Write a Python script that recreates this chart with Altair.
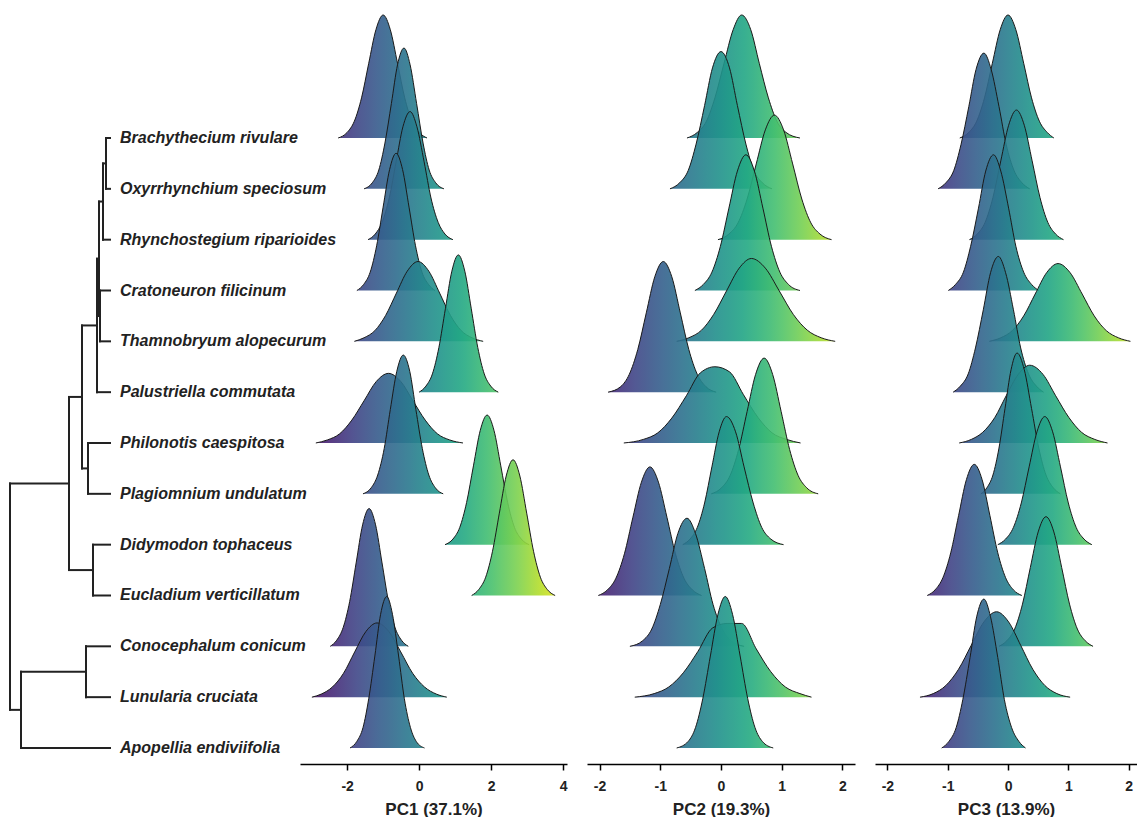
import altair as alt
import pandas as pd

SPECIES = ["Brachythecium rivulare", "Oxyrrhynchium speciosum", "Rhynchostegium riparioides",
           "Cratoneuron filicinum", "Thamnobryum alopecurum", "Palustriella commutata",
           "Philonotis caespitosa", "Plagiomnium undulatum", "Didymodon tophaceus",
           "Eucladium verticillatum", "Conocephalum conicum", "Lunularia cruciata",
           "Apopellia endiviifolia"]

PC_TITLES = ["PC1 (37.1%)", "PC2 (19.3%)", "PC3 (13.9%)"]
PC_TICKS = [[-2, 0, 2, 4], [-2, -1, 0, 1, 2], [-2, -1, 0, 1, 2]]
PC_DOMAINS = [[-3.31, 4.11], [-2.206, 2.206], [-2.206, 2.139]]
PC_FILL_RANGE = [[-3.3, 4.2], [-2.4, 2.3], [-1.8, 2.4]]
PANEL_W = [267, 268, 262]

# density curves: x positions and ridge heights (in row units) per species
PC1_X = [
    [-2.25, -2.0, -1.8, -1.6, -1.4, -1.2, -1.0, -0.8, -0.6, -0.4, -0.2, 0.0, 0.22],
    [-1.53, -1.30, -1.12, -0.95, -0.77, -0.60, -0.42, -0.25, -0.07, 0.11, 0.28, 0.46, 0.69],
    [-1.42, -1.22, -1.03, -0.83, -0.64, -0.45, -0.25, -0.06, 0.14, 0.33, 0.53, 0.72, 0.94],
    [-1.73, -1.54, -1.36, -1.18, -1.0, -0.82, -0.64, -0.46, -0.28, -0.10, 0.08, 0.26, 0.44],
    [-1.8, -1.53, -1.23, -0.93, -0.63, -0.33, -0.03, 0.27, 0.57, 0.87, 1.17, 1.47, 1.78],
    [0.0, 0.19, 0.37, 0.55, 0.73, 0.91, 1.09, 1.27, 1.45, 1.63, 1.81, 1.99, 2.2],
    [-2.87, -2.55, -2.21, -1.87, -1.53, -1.19, -0.85, -0.51, -0.17, 0.17, 0.51, 0.85, 1.22],
    [-1.56, -1.33, -1.15, -0.97, -0.80, -0.62, -0.44, -0.26, -0.09, 0.09, 0.27, 0.45, 0.67],
    [0.72, 0.94, 1.13, 1.32, 1.51, 1.70, 1.89, 2.08, 2.27, 2.46, 2.65, 2.84, 3.06],
    [1.46, 1.66, 1.85, 2.04, 2.23, 2.42, 2.61, 2.80, 2.99, 3.18, 3.37, 3.56, 3.78],
    [-2.47, -2.29, -2.11, -1.93, -1.75, -1.57, -1.39, -1.21, -1.03, -0.85, -0.67, -0.49, -0.30],
    [-2.98, -2.72, -2.41, -2.10, -1.79, -1.48, -1.17, -0.84, -0.51, -0.18, 0.15, 0.48, 0.77],
    [-1.92, -1.73, -1.56, -1.40, -1.23, -1.07, -0.90, -0.74, -0.57, -0.41, -0.24, -0.08, 0.15],
]
PC1_H = [
    [0, 0.11, 0.33, 0.79, 1.47, 2.13, 2.42, 2.13, 1.47, 0.79, 0.33, 0.11, 0],
    [0, 0.12, 0.37, 0.90, 1.68, 2.44, 2.77, 2.44, 1.68, 0.90, 0.37, 0.12, 0],
    [0, 0.11, 0.34, 0.82, 1.53, 2.22, 2.52, 2.22, 1.53, 0.82, 0.34, 0.11, 0],
    [0, 0.12, 0.36, 0.88, 1.64, 2.38, 2.70, 2.38, 1.64, 0.88, 0.36, 0.12, 0],
    [0, 0.07, 0.21, 0.51, 0.95, 1.38, 1.57, 1.38, 0.95, 0.51, 0.21, 0.07, 0],
    [0, 0.12, 0.36, 0.88, 1.64, 2.38, 2.70, 2.38, 1.64, 0.88, 0.36, 0.12, 0],
    [0, 0.06, 0.18, 0.45, 0.83, 1.21, 1.37, 1.21, 0.83, 0.45, 0.18, 0.06, 0],
    [0, 0.12, 0.37, 0.89, 1.66, 2.41, 2.73, 2.41, 1.66, 0.89, 0.37, 0.12, 0],
    [0, 0.11, 0.34, 0.83, 1.55, 2.25, 2.55, 2.25, 1.55, 0.83, 0.34, 0.11, 0],
    [0, 0.12, 0.36, 0.87, 1.62, 2.35, 2.67, 2.35, 1.62, 0.87, 0.36, 0.12, 0],
    [0, 0.12, 0.37, 0.88, 1.64, 2.39, 2.71, 2.39, 1.64, 0.88, 0.37, 0.12, 0],
    [0, 0.06, 0.20, 0.47, 0.89, 1.29, 1.46, 1.29, 0.89, 0.47, 0.20, 0.06, 0],
    [0, 0.13, 0.40, 0.97, 1.81, 2.63, 2.98, 2.63, 1.81, 0.97, 0.40, 0.13, 0],
]

PC2_X = [
    [-0.56, -0.39, -0.24, -0.10, 0.05, 0.20, 0.34, 0.49, 0.63, 0.78, 0.92, 1.07, 1.3],
    [-0.84, -0.68, -0.54, -0.41, -0.27, -0.14, 0.0, 0.14, 0.27, 0.41, 0.54, 0.68, 0.84],
    [-0.05, 0.13, 0.28, 0.43, 0.58, 0.73, 0.88, 1.03, 1.18, 1.33, 1.48, 1.63, 1.82],
    [-0.43, -0.29, -0.15, -0.01, 0.13, 0.27, 0.41, 0.55, 0.69, 0.83, 0.97, 1.11, 1.3],
    [-0.73, -0.53, -0.32, -0.12, 0.09, 0.30, 0.5, 0.73, 0.96, 1.19, 1.42, 1.65, 1.88],
    [-1.86, -1.65, -1.51, -1.37, -1.23, -1.09, -0.95, -0.81, -0.67, -0.53, -0.39, -0.25, -0.08],
    [-1.6, -1.28, -1.04, -0.81, -0.57, -0.34, -0.1, 0.14, 0.37, 0.61, 0.84, 1.08, 1.31],
    [-0.16, 0.01, 0.15, 0.29, 0.43, 0.57, 0.71, 0.85, 0.99, 1.13, 1.27, 1.41, 1.6],
    [-0.63, -0.51, -0.39, -0.27, -0.15, -0.03, 0.09, 0.24, 0.38, 0.53, 0.67, 0.82, 1.03],
    [-2.02, -1.87, -1.73, -1.59, -1.45, -1.31, -1.17, -1.03, -0.89, -0.75, -0.61, -0.47, -0.32],
    [-1.5, -1.29, -1.14, -1.0, -0.85, -0.71, -0.56, -0.42, -0.27, -0.13, 0.02, 0.16, 0.38],
    [-1.42, -1.1, -0.86, -0.62, -0.38, -0.14, 0.1, 0.34, 0.58, 0.82, 1.06, 1.30, 1.49],
    [-0.73, -0.54, -0.42, -0.30, -0.175, -0.05, 0.07, 0.19, 0.315, 0.44, 0.56, 0.68, 0.86],
]
PC2_H = [
    [0, 0.11, 0.33, 0.79, 1.47, 2.13, 2.42, 2.13, 1.47, 0.79, 0.33, 0.11, 0],
    [0, 0.12, 0.36, 0.88, 1.64, 2.38, 2.70, 2.38, 1.64, 0.88, 0.36, 0.12, 0],
    [0, 0.11, 0.33, 0.80, 1.49, 2.16, 2.45, 2.16, 1.49, 0.80, 0.33, 0.11, 0],
    [0, 0.12, 0.36, 0.87, 1.62, 2.35, 2.67, 2.35, 1.62, 0.87, 0.36, 0.12, 0],
    [0, 0.07, 0.22, 0.53, 0.99, 1.44, 1.63, 1.44, 0.99, 0.53, 0.22, 0.07, 0],
    [0, 0.11, 0.35, 0.84, 1.56, 2.27, 2.57, 2.27, 1.56, 0.84, 0.35, 0.11, 0],
    [0, 0.07, 0.20, 0.49, 0.93, 1.38, 1.50, 1.40, 0.95, 0.50, 0.20, 0.07, 0],
    [0, 0.12, 0.36, 0.87, 1.62, 2.35, 2.67, 2.35, 1.62, 0.87, 0.36, 0.12, 0],
    [0, 0.11, 0.34, 0.82, 1.53, 2.22, 2.52, 2.22, 1.53, 0.82, 0.34, 0.11, 0],
    [0, 0.11, 0.34, 0.82, 1.54, 2.23, 2.53, 2.23, 1.54, 0.82, 0.34, 0.11, 0],
    [0, 0.11, 0.34, 0.82, 1.53, 2.22, 2.52, 2.22, 1.53, 0.82, 0.34, 0.11, 0],
    [0, 0.07, 0.20, 0.48, 0.90, 1.36, 1.45, 1.45, 0.95, 0.50, 0.20, 0.07, 0],
    [0, 0.13, 0.40, 0.97, 1.81, 2.63, 2.98, 2.63, 1.81, 0.97, 0.40, 0.13, 0],
]

PC3_X = [
    [-0.8, -0.65, -0.52, -0.39, -0.26, -0.13, 0.0, 0.13, 0.26, 0.39, 0.52, 0.65, 0.76],
    [-1.16, -1.03, -0.9, -0.78, -0.65, -0.53, -0.4, -0.28, -0.15, -0.03, 0.1, 0.23, 0.36],
    [-0.64, -0.51, -0.38, -0.25, -0.12, 0.01, 0.14, 0.27, 0.4, 0.53, 0.66, 0.79, 0.92],
    [-0.99, -0.87, -0.74, -0.62, -0.49, -0.37, -0.24, -0.12, 0.01, 0.13, 0.26, 0.39, 0.51],
    [-0.31, -0.12, 0.07, 0.26, 0.45, 0.64, 0.83, 1.03, 1.23, 1.43, 1.63, 1.83, 2.03],
    [-0.91, -0.79, -0.66, -0.54, -0.41, -0.29, -0.16, -0.04, 0.09, 0.21, 0.34, 0.47, 0.59],
    [-0.81, -0.61, -0.42, -0.22, -0.03, 0.17, 0.36, 0.58, 0.79, 1.01, 1.22, 1.44, 1.65],
    [-0.45, -0.35, -0.25, -0.15, -0.05, 0.05, 0.15, 0.27, 0.39, 0.51, 0.63, 0.75, 0.87],
    [-0.17, -0.04, 0.09, 0.22, 0.35, 0.48, 0.61, 0.74, 0.87, 1.0, 1.13, 1.26, 1.39],
    [-1.34, -1.21, -1.08, -0.95, -0.82, -0.69, -0.56, -0.43, -0.30, -0.17, -0.04, 0.09, 0.23],
    [-0.15, -0.02, 0.11, 0.24, 0.37, 0.5, 0.63, 0.76, 0.89, 1.02, 1.15, 1.28, 1.41],
    [-1.46, -1.24, -1.03, -0.82, -0.61, -0.40, -0.19, 0.01, 0.21, 0.41, 0.61, 0.81, 1.03],
    [-1.1, -0.98, -0.86, -0.75, -0.63, -0.52, -0.4, -0.29, -0.17, -0.06, 0.06, 0.18, 0.29],
]
PC3_H = [
    [0, 0.11, 0.33, 0.79, 1.47, 2.13, 2.42, 2.13, 1.47, 0.79, 0.33, 0.11, 0],
    [0, 0.12, 0.36, 0.87, 1.62, 2.35, 2.67, 2.35, 1.62, 0.87, 0.36, 0.12, 0],
    [0, 0.11, 0.34, 0.83, 1.55, 2.25, 2.55, 2.25, 1.55, 0.83, 0.34, 0.11, 0],
    [0, 0.12, 0.36, 0.87, 1.62, 2.35, 2.67, 2.35, 1.62, 0.87, 0.36, 0.12, 0],
    [0, 0.07, 0.21, 0.50, 0.93, 1.35, 1.53, 1.35, 0.93, 0.50, 0.21, 0.07, 0],
    [0, 0.12, 0.36, 0.87, 1.62, 2.35, 2.67, 2.35, 1.62, 0.87, 0.36, 0.12, 0],
    [0, 0.07, 0.21, 0.50, 0.93, 1.35, 1.53, 1.35, 0.93, 0.50, 0.21, 0.07, 0],
    [0, 0.12, 0.37, 0.90, 1.68, 2.44, 2.77, 2.44, 1.68, 0.90, 0.37, 0.12, 0],
    [0, 0.11, 0.34, 0.82, 1.53, 2.22, 2.52, 2.22, 1.53, 0.82, 0.34, 0.11, 0],
    [0, 0.11, 0.35, 0.84, 1.57, 2.28, 2.58, 2.28, 1.57, 0.84, 0.35, 0.11, 0],
    [0, 0.11, 0.34, 0.83, 1.55, 2.25, 2.55, 2.25, 1.55, 0.83, 0.34, 0.11, 0],
    [0, 0.07, 0.23, 0.55, 1.02, 1.48, 1.68, 1.48, 1.02, 0.55, 0.23, 0.07, 0],
    [0, 0.13, 0.40, 0.95, 1.78, 2.58, 2.93, 2.58, 1.78, 0.95, 0.40, 0.13, 0],
]

PANEL_X = [PC1_X, PC2_X, PC3_X]
PANEL_H = [PC1_H, PC2_H, PC3_H]

# dendrogram: (node, depth position, children)
LEAF_X = 110
TREE_NODES = [
    ("A", 106, ["Brachythecium rivulare", "Oxyrrhynchium speciosum"]),
    ("B", 103, ["A", "Rhynchostegium riparioides"]),
    ("F", 100, ["Cratoneuron filicinum", "Thamnobryum alopecurum"]),
    ("G", 99, ["B", "F"]),
    ("E", 97, ["G", "Palustriella commutata"]),
    ("P", 88, ["Philonotis caespitosa", "Plagiomnium undulatum"]),
    ("H", 82, ["E", "P"]),
    ("Q", 93, ["Didymodon tophaceus", "Eucladium verticillatum"]),
    ("I", 69, ["H", "Q"]),
    ("R", 86, ["Conocephalum conicum", "Lunularia cruciata"]),
    ("J", 21, ["R", "Apopellia endiviifolia"]),
    ("root", 10, ["I", "J"]),
]

VIRIDIS = ["#440154", "#482475", "#414487", "#355f8d", "#2a788e", "#21918c",
           "#22a884", "#44bf70", "#7ad151", "#bddf26", "#fde725"]

Y_DOMAIN = [0.685, 15.715]
PLOT_H = 764
FONT = "Liberation Sans"
INK = "#222222"


def viridis(t):
    t = min(max(t, 0.0), 1.0)
    pos = t * (len(VIRIDIS) - 1)
    i = int(pos)
    if i >= len(VIRIDIS) - 1:
        return VIRIDIS[-1]
    f = pos - i
    a = [int(VIRIDIS[i][k:k + 2], 16) for k in (1, 3, 5)]
    b = [int(VIRIDIS[i + 1][k:k + 2], 16) for k in (1, 3, 5)]
    c = [round(a[k] + (b[k] - a[k]) * f) for k in range(3)]
    return "#%02x%02x%02x" % tuple(c)


n = len(SPECIES)
base_of = {sp: n - i for i, sp in enumerate(SPECIES)}


def ridge_panel(k):
    xs_all, hs_all = PANEL_X[k], PANEL_H[k]
    rows = []
    for i, sp in enumerate(SPECIES):
        b = base_of[sp]
        for x, h in zip(xs_all[i], hs_all[i]):
            rows.append({"sp": sp, "x": x, "top": b + h, "base": b})
    df = pd.DataFrame(rows)
    lo, hi = PC_FILL_RANGE[k]
    xenc = alt.X("x:Q", title=PC_TITLES[k],
                 scale=alt.Scale(domain=PC_DOMAINS[k], nice=False, zero=False),
                 axis=alt.Axis(values=PC_TICKS[k], grid=False, domainColor="black",
                               domainWidth=1.6, tickColor="black", tickWidth=1.5,
                               tickSize=6, labelFont=FONT, labelFontSize=14,
                               labelFontWeight="bold", labelColor=INK, labelPadding=9,
                               labelExpr="'' + datum.value",
                               titleFont=FONT, titleFontSize=17, titleFontWeight="bold",
                               titleColor=INK, titlePadding=8))
    yenc = alt.Y("top:Q", scale=alt.Scale(domain=Y_DOMAIN, nice=False, zero=False), axis=None)
    layers = []
    for i, sp in enumerate(SPECIES):
        x0, x1 = xs_all[i][0], xs_all[i][-1]
        stops = []
        for j in range(13):
            t = j / 12
            xv = x0 + t * (x1 - x0)
            stops.append(alt.GradientStop(color=viridis((xv - lo) / (hi - lo)), offset=t))
        grad = alt.Gradient(gradient="linear", stops=stops, x1=0, x2=1, y1=0, y2=0)
        bc = alt.Chart(df).transform_filter(alt.datum.sp == sp)
        area = bc.mark_area(fill=grad, fillOpacity=0.9, interpolate="monotone").encode(
            x=xenc, y=yenc, y2="base:Q")
        line = bc.mark_line(color="#1a1a1a", strokeWidth=1, interpolate="monotone").encode(
            x=xenc, y=yenc)
        layers += [area, line]
    return alt.layer(*layers).properties(width=PANEL_W[k], height=PLOT_H)


# dendrogram segments
node_x = {sp: LEAF_X for sp in SPECIES}
node_y = {sp: float(base_of[sp]) for sp in SPECIES}
segs = []
for name, x, children in TREE_NODES:
    node_x[name] = x
    cy = [node_y[c] for c in children]
    node_y[name] = sum(cy) / len(cy)
    segs.append({"x1": x, "x2": x, "y1": min(cy), "y2": max(cy)})
    for c in children:
        segs.append({"x1": x, "x2": node_x[c], "y1": node_y[c], "y2": node_y[c]})
seg_df = pd.DataFrame(segs)
lab_df = pd.DataFrame({"sp": SPECIES, "x": [LEAF_X] * n, "y": [base_of[s] for s in SPECIES]})

tx = alt.Scale(domain=[0, 300], nice=False, zero=False)
ty = alt.Scale(domain=Y_DOMAIN, nice=False, zero=False)
tree = alt.Chart(seg_df).mark_rule(color=INK, strokeWidth=2, strokeCap="square").encode(
    x=alt.X("x1:Q", scale=tx, axis=None), x2="x2:Q",
    y=alt.Y("y1:Q", scale=ty, axis=None), y2="y2:Q")
labels = alt.Chart(lab_df).mark_text(align="left", baseline="middle", dx=10, font=FONT,
                                     fontStyle="italic", fontWeight="bold", fontSize=16,
                                     color=INK).encode(
    x=alt.X("x:Q", scale=tx, axis=None), y=alt.Y("y:Q", scale=ty, axis=None), text="sp:N")
dendro = alt.layer(tree, labels).properties(width=300, height=PLOT_H)

panels = alt.hconcat(ridge_panel(0), ridge_panel(1), ridge_panel(2), spacing=20, bounds="flush")
chart = alt.hconcat(dendro, panels, spacing=0, bounds="flush").properties(
    padding={"left": 0, "top": 0, "right": 0, "bottom": 0}, background="white"
).configure_view(stroke=None)

chart.save("out.html", embed_options={"renderer": "svg", "actions": False})
